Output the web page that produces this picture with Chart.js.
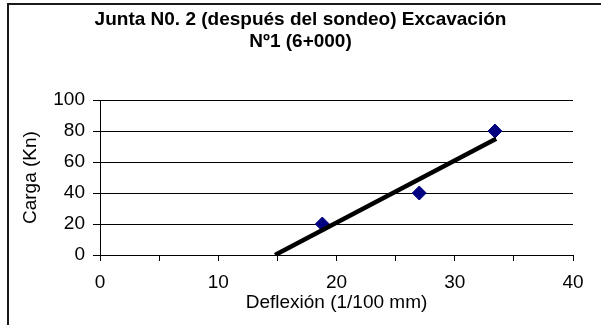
<!DOCTYPE html>
<html>
<head>
<meta charset="utf-8">
<script src="https://cdn.jsdelivr.net/npm/chart.js@4/dist/chart.umd.min.js"></script>
<style>
  html, body { margin: 0; padding: 0; background: #fff; overflow: hidden; }
  #wrap { position: relative; width: 601px; height: 325px; }
  #frame { position: absolute; left: 7px; top: 3px; width: 700px; height: 400px;
           border-top: 2px solid #1a1a1a; border-left: 2px solid #1a1a1a; }
  #chart { position: absolute; left: 0; top: 0; }
</style>
</head>
<body>
<div id="wrap">
  <div id="frame"></div>
  <canvas id="chart" width="601" height="325"></canvas>
</div>
<script>
'use strict';

/* values */
var deflexion = [18.8, 27.0, 33.4];   // 1/100 mm
var carga = [20, 40, 80];             // Kn
var trendX = [14.8, 33.5];            // trend line ends
var trendY = [0, 75];

var titleLines = ['Junta N0. 2 (después del sondeo) Excavación', 'Nº1 (6+000)'];
var xTitle = 'Deflexión (1/100 mm)';
var yTitle = 'Carga (Kn)';

var FONT = "'Liberation Sans', Arial, sans-serif";

function toPoints(xs, ys) {
  return xs.map(function (x, i) { return { x: x, y: ys[i] }; });
}

new Chart(document.getElementById('chart').getContext('2d'), {
  type: 'scatter',
  data: {
    datasets: [
      {
        type: 'line', label: 'Tendencia', data: toPoints(trendX, trendY),
        borderColor: '#000', borderWidth: 4.5, pointRadius: 0, fill: false,
        borderCapStyle: 'butt', order: 0
      },
      {
        label: 'Carga', data: toPoints(deflexion, carga),
        pointStyle: 'rectRot', pointRadius: 7, borderWidth: 1,
        backgroundColor: '#000080', borderColor: '#000080', order: 1
      }
    ]
  },
  options: {
    responsive: false,
    animation: false,
    layout: { padding: 0 },
    plugins: {
      legend: { display: false },
      tooltip: { enabled: false },
      title: {
        display: true, text: titleLines, color: '#000',
        font: { family: FONT, size: 19, weight: 'bold', lineHeight: 1.16 },
        padding: { top: 9, bottom: 47 }
      }
    },
    scales: {
      x: {
        type: 'linear', position: 'bottom', min: 0, max: 40,
        afterFit: function (s) { s.height = 70; },
        ticks: {
          stepSize: 5, autoSkip: false, maxRotation: 0, color: '#000', padding: 10,
          font: { family: FONT, size: 19 },
          callback: function (v) { return v % 10 === 0 ? v : ''; }
        },
        grid: { drawOnChartArea: false, drawTicks: true, tickLength: 6, color: '#000' },
        border: { display: true, color: '#000', width: 1 },
        title: {
          display: true, text: xTitle, color: '#000',
          font: { family: FONT, size: 19 }, padding: { top: 0, bottom: 11 }
        }
      },
      y: {
        min: 0, max: 100,
        afterFit: function (s) { s.width = 100; },
        ticks: { stepSize: 20, color: '#000', padding: 8, font: { family: FONT, size: 19 } },
        grid: { color: '#000', lineWidth: 1, drawTicks: true, tickLength: 7 },
        border: { display: true, color: '#000', width: 1 },
        title: {
          display: true, text: yTitle, color: '#000',
          font: { family: FONT, size: 19 }, padding: { top: 19, bottom: 0 }
        }
      },
      // empty right-hand axis only reserves the margin right of the plot
      yRight: {
        position: 'right', min: 0, max: 100,
        afterFit: function (s) { s.width = 28; },
        ticks: { display: false },
        grid: { display: false },
        border: { display: false }
      }
    }
  }
});
</script>
</body>
</html>
